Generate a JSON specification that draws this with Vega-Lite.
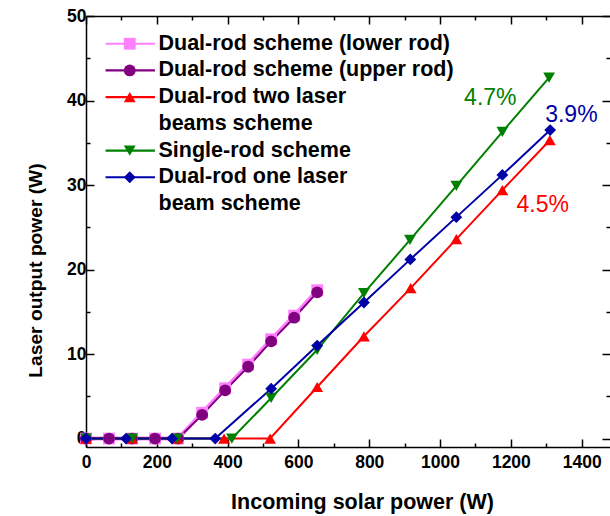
{
  "$schema": "https://vega.github.io/schema/vega-lite/v6.json",
  "width": 524,
  "height": 431,
  "autosize": {"type": "none"},
  "padding": {"left": 86, "top": 16, "right": 0, "bottom": 69},
  "background": "white",
  "config": {
    "view": {"stroke": null},
    "font": "Liberation Sans",
    "axis": {
      "grid": false,
      "domainColor": "black",
      "domainWidth": 1.5,
      "tickColor": "black",
      "tickWidth": 1.5,
      "format": "d",
      "labelFont": "Liberation Sans",
      "labelFontSize": 17.5,
      "labelFontWeight": "bold",
      "labelColor": "black",
      "labelFlush": false,
      "labelOverlap": false,
      "titleFont": "Liberation Sans",
      "titleFontSize": 21.5,
      "titleFontWeight": "bold",
      "titleColor": "black"
    }
  },
  "data": {
    "values": [
      {"scheme": "Dual-rod scheme (lower rod)", "P_in": 0, "P_out": 0},
      {"scheme": "Dual-rod scheme (lower rod)", "P_in": 65, "P_out": 0},
      {"scheme": "Dual-rod scheme (lower rod)", "P_in": 130, "P_out": 0},
      {"scheme": "Dual-rod scheme (lower rod)", "P_in": 195, "P_out": 0},
      {"scheme": "Dual-rod scheme (lower rod)", "P_in": 260, "P_out": 0},
      {"scheme": "Dual-rod scheme (lower rod)", "P_in": 328, "P_out": 3.05},
      {"scheme": "Dual-rod scheme (lower rod)", "P_in": 393, "P_out": 5.95},
      {"scheme": "Dual-rod scheme (lower rod)", "P_in": 458, "P_out": 8.75},
      {"scheme": "Dual-rod scheme (lower rod)", "P_in": 523, "P_out": 11.75},
      {"scheme": "Dual-rod scheme (lower rod)", "P_in": 588, "P_out": 14.55},
      {"scheme": "Dual-rod scheme (lower rod)", "P_in": 653, "P_out": 17.55},
      {"scheme": "Dual-rod scheme (upper rod)", "P_in": 0, "P_out": 0},
      {"scheme": "Dual-rod scheme (upper rod)", "P_in": 65, "P_out": 0},
      {"scheme": "Dual-rod scheme (upper rod)", "P_in": 130, "P_out": 0},
      {"scheme": "Dual-rod scheme (upper rod)", "P_in": 195, "P_out": 0},
      {"scheme": "Dual-rod scheme (upper rod)", "P_in": 260, "P_out": 0},
      {"scheme": "Dual-rod scheme (upper rod)", "P_in": 328, "P_out": 2.8},
      {"scheme": "Dual-rod scheme (upper rod)", "P_in": 393, "P_out": 5.7},
      {"scheme": "Dual-rod scheme (upper rod)", "P_in": 458, "P_out": 8.5},
      {"scheme": "Dual-rod scheme (upper rod)", "P_in": 523, "P_out": 11.5},
      {"scheme": "Dual-rod scheme (upper rod)", "P_in": 588, "P_out": 14.3},
      {"scheme": "Dual-rod scheme (upper rod)", "P_in": 653, "P_out": 17.3},
      {"scheme": "Dual-rod two laser beams scheme", "P_in": 0, "P_out": 0},
      {"scheme": "Dual-rod two laser beams scheme", "P_in": 130, "P_out": 0},
      {"scheme": "Dual-rod two laser beams scheme", "P_in": 257, "P_out": 0},
      {"scheme": "Dual-rod two laser beams scheme", "P_in": 390, "P_out": 0},
      {"scheme": "Dual-rod two laser beams scheme", "P_in": 520, "P_out": 0},
      {"scheme": "Dual-rod two laser beams scheme", "P_in": 653, "P_out": 6.1},
      {"scheme": "Dual-rod two laser beams scheme", "P_in": 785, "P_out": 12.1},
      {"scheme": "Dual-rod two laser beams scheme", "P_in": 917, "P_out": 17.8},
      {"scheme": "Dual-rod two laser beams scheme", "P_in": 1046, "P_out": 23.6},
      {"scheme": "Dual-rod two laser beams scheme", "P_in": 1176, "P_out": 29.4},
      {"scheme": "Dual-rod two laser beams scheme", "P_in": 1310, "P_out": 35.3},
      {"scheme": "Single-rod scheme", "P_in": 0, "P_out": 0},
      {"scheme": "Single-rod scheme", "P_in": 130, "P_out": 0},
      {"scheme": "Single-rod scheme", "P_in": 257, "P_out": 0},
      {"scheme": "Single-rod scheme", "P_in": 412, "P_out": 0},
      {"scheme": "Single-rod scheme", "P_in": 523, "P_out": 4.8},
      {"scheme": "Single-rod scheme", "P_in": 653, "P_out": 10.5},
      {"scheme": "Single-rod scheme", "P_in": 785, "P_out": 17.2},
      {"scheme": "Single-rod scheme", "P_in": 915, "P_out": 23.5},
      {"scheme": "Single-rod scheme", "P_in": 1046, "P_out": 29.9},
      {"scheme": "Single-rod scheme", "P_in": 1176, "P_out": 36.3},
      {"scheme": "Single-rod scheme", "P_in": 1308, "P_out": 42.7},
      {"scheme": "Dual-rod one laser beam scheme", "P_in": 0, "P_out": 0},
      {"scheme": "Dual-rod one laser beam scheme", "P_in": 113, "P_out": 0},
      {"scheme": "Dual-rod one laser beam scheme", "P_in": 243, "P_out": 0},
      {"scheme": "Dual-rod one laser beam scheme", "P_in": 365, "P_out": 0},
      {"scheme": "Dual-rod one laser beam scheme", "P_in": 523, "P_out": 5.9},
      {"scheme": "Dual-rod one laser beam scheme", "P_in": 653, "P_out": 11.0},
      {"scheme": "Dual-rod one laser beam scheme", "P_in": 785, "P_out": 16.1},
      {"scheme": "Dual-rod one laser beam scheme", "P_in": 916, "P_out": 21.2},
      {"scheme": "Dual-rod one laser beam scheme", "P_in": 1046, "P_out": 26.2},
      {"scheme": "Dual-rod one laser beam scheme", "P_in": 1176, "P_out": 31.2},
      {"scheme": "Dual-rod one laser beam scheme", "P_in": 1311, "P_out": 36.5}
    ]
  },
  "resolve": {"axis": {"x": "independent", "y": "independent"}},
  "layer": [
    {
      "transform": [
        {"filter": "datum.scheme === 'Dual-rod scheme (lower rod)'"},
        {"fold": ["scheme"], "as": ["key", "curve"]}
      ],
      "mark": {"type": "line", "strokeWidth": 4},
      "encoding": {
        "x": {
          "field": "P_in", "type": "quantitative",
          "scale": {"domain": [0, 1480], "nice": false, "zero": false},
          "axis": {
            "orient": "bottom",
            "values": [0, 100, 200, 300, 400, 500, 600, 700, 800, 900, 1000, 1100, 1200, 1300, 1400],
            "labelExpr": "datum.value % 200 === 0 ? datum.label : ''",
            "tickSize": {"condition": {"test": "datum.value % 200 === 0", "value": -8}, "value": -4},
            "labelPadding": 14,
            "title": "Incoming solar power (W)",
            "titlePadding": 17,
            "titleX": 276
          }
        },
        "y": {
          "field": "P_out", "type": "quantitative",
          "scale": {"domain": [-1, 50], "nice": false, "zero": false},
          "axis": {
            "orient": "left",
            "values": [0, 5, 10, 15, 20, 25, 30, 35, 40, 45, 50],
            "labelExpr": "datum.value % 10 === 0 ? datum.label : ''",
            "tickSize": {"condition": {"test": "datum.value % 10 === 0", "value": -8}, "value": -4},
            "labelPadding": 8,
            "title": "Laser output power (W)",
            "titleFontSize": 19.2,
            "titlePadding": 21,
            "titleY": 254
          }
        },
        "stroke": {
          "field": "curve", "type": "nominal",
          "scale": {
            "domain": ["Dual-rod scheme (lower rod)", "Dual-rod scheme (upper rod)", "Dual-rod two laser beams scheme", "beams scheme", "Single-rod scheme", "Dual-rod one laser beam scheme", "beam scheme", "unused"],
            "range": ["#FF80FF", "#800080", "#FF0000", "transparent", "#008000", "#0000A8", "transparent", "transparent"]
          },
          "legend": {
            "orient": "none", "legendX": 33.5, "legendY": 17, "padding": 0,
            "title": null,
            "values": ["Dual-rod scheme (lower rod)", "Dual-rod scheme (upper rod)", "Dual-rod two laser beams scheme", "beams scheme", "Single-rod scheme", "Dual-rod one laser beam scheme", "beam scheme"],
            "symbolType": "M-4.71,0H4.71",
            "symbolSize": 110, "symbolStrokeWidth": 2.2,
            "labelFont": "Liberation Sans", "labelFontSize": 21.5, "labelFontWeight": "bold",
            "labelColor": "black", "labelLimit": 500, "labelOffset": 17.5, "rowPadding": 3.7,
            "labelExpr": "datum.label === 'Dual-rod two laser beams scheme' ? 'Dual-rod two laser' : datum.label === 'Dual-rod one laser beam scheme' ? 'Dual-rod one laser' : datum.label === 'beams scheme' ? '\u00a0beams scheme' : datum.label"
          }
        }
      }
    },
    {
      "transform": [
        {"filter": "datum.scheme !== 'Dual-rod scheme (lower rod)'"},
        {"fold": ["scheme"], "as": ["key", "curve"]}
      ],
      "mark": {"type": "line", "strokeWidth": 2},
      "encoding": {
        "x": {"field": "P_in", "type": "quantitative", "axis": null},
        "y": {"field": "P_out", "type": "quantitative", "axis": null},
        "stroke": {
          "field": "curve", "type": "nominal",
          "legend": {
            "orient": "none", "legendX": 33.5, "legendY": 17, "padding": 0,
            "title": null,
            "values": ["Dual-rod scheme (lower rod)", "Dual-rod scheme (upper rod)", "Dual-rod two laser beams scheme", "beams scheme", "Single-rod scheme", "Dual-rod one laser beam scheme", "beam scheme"],
            "symbolType": "M-4.71,0H4.71",
            "symbolSize": 110, "symbolStrokeWidth": 2.2,
            "labelFont": "Liberation Sans", "labelFontSize": 21.5, "labelFontWeight": "bold",
            "labelColor": "black", "labelLimit": 500, "labelOffset": 17.5, "rowPadding": 3.7,
            "labelExpr": "datum.label === 'Dual-rod two laser beams scheme' ? 'Dual-rod two laser' : datum.label === 'Dual-rod one laser beam scheme' ? 'Dual-rod one laser' : datum.label === 'beams scheme' ? '\u00a0beams scheme' : datum.label"
          }
        }
      }
    },
    {
      "mark": {"type": "point", "filled": true, "size": 140, "opacity": 1},
      "encoding": {
        "x": {
          "field": "P_in", "type": "quantitative",
          "axis": {
            "orient": "top",
            "values": [0, 100, 200, 300, 400, 500, 600, 700, 800, 900, 1000, 1100, 1200, 1300, 1400],
            "labels": false, "title": null,
            "tickSize": {"condition": {"test": "datum.value % 200 === 0", "value": -8}, "value": -4}
          }
        },
        "y": {
          "field": "P_out", "type": "quantitative",
          "axis": {
            "orient": "right",
            "values": [0, 5, 10, 15, 20, 25, 30, 35, 40, 45, 50],
            "labels": false, "title": null, "domain": false,
            "tickSize": {"condition": {"test": "datum.value % 10 === 0", "value": -8}, "value": -4}
          }
        },
        "color": {
          "field": "scheme", "type": "nominal",
          "scale": {
            "domain": ["Dual-rod scheme (lower rod)", "Dual-rod scheme (upper rod)", "Dual-rod two laser beams scheme", "beams scheme", "Single-rod scheme", "Dual-rod one laser beam scheme", "beam scheme"],
            "range": ["#FF80FF", "#800080", "#FF0000", "transparent", "#008000", "#0000A8", "transparent"]
          },
          "legend": {
            "orient": "none", "legendX": 33, "legendY": 17, "padding": 0,
            "title": null, "symbolSize": 140, "symbolStrokeWidth": 0,
            "labelFont": "Liberation Sans", "labelFontSize": 21.5, "labelFontWeight": "bold",
            "labelOpacity": 0, "labelLimit": 500, "labelOffset": 17.5, "rowPadding": 3.7,
            "labelExpr": "datum.label === 'Dual-rod two laser beams scheme' ? 'Dual-rod two laser' : datum.label === 'Dual-rod one laser beam scheme' ? 'Dual-rod one laser' : datum.label === 'beams scheme' ? '\u00a0beams scheme' : datum.label"
          }
        },
        "shape": {
          "field": "scheme", "type": "nominal",
          "scale": {
            "domain": ["Dual-rod scheme (lower rod)", "Dual-rod scheme (upper rod)", "Dual-rod two laser beams scheme", "beams scheme", "Single-rod scheme", "Dual-rod one laser beam scheme", "beam scheme"],
            "range": ["square", "circle", "triangle-up", "circle", "triangle-down", "diamond", "circle"]
          }
        }
      }
    },
    {
      "data": {"values": [{"slope": "4.7%"}]},
      "mark": {"type": "text", "font": "Liberation Sans", "fontSize": 23, "align": "center", "baseline": "alphabetic", "color": "#008000"},
      "encoding": {
        "x": {"datum": 1142, "type": "quantitative", "axis": null},
        "y": {"datum": 39.5, "type": "quantitative", "axis": null},
        "text": {"field": "slope"}
      }
    },
    {
      "data": {"values": [{"slope": "3.9%"}]},
      "mark": {"type": "text", "font": "Liberation Sans", "fontSize": 23, "align": "center", "baseline": "alphabetic", "color": "#0000A8"},
      "encoding": {
        "x": {"datum": 1371, "type": "quantitative", "axis": null},
        "y": {"datum": 37.5, "type": "quantitative", "axis": null},
        "text": {"field": "slope"}
      }
    },
    {
      "data": {"values": [{"slope": "4.5%"}]},
      "mark": {"type": "text", "font": "Liberation Sans", "fontSize": 23, "align": "center", "baseline": "alphabetic", "color": "#FF0000"},
      "encoding": {
        "x": {"datum": 1290, "type": "quantitative", "axis": null},
        "y": {"datum": 26.8, "type": "quantitative", "axis": null},
        "text": {"field": "slope"}
      }
    }
  ]
}
